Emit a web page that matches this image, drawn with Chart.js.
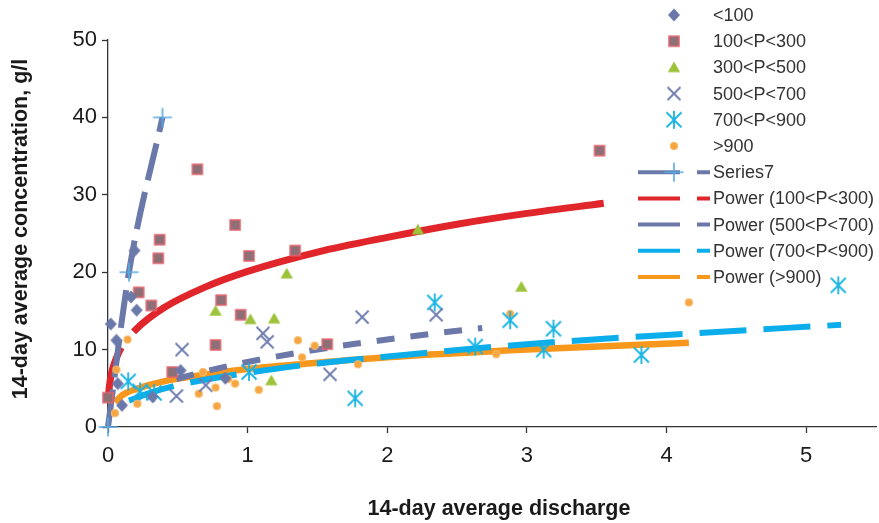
<!DOCTYPE html>
<html>
<head>
<meta charset="utf-8">
<script src="https://cdn.jsdelivr.net/npm/chart.js@4.4.0/dist/chart.umd.min.js"></script>
<style>
  html, body { margin: 0; padding: 0; background: #fff; }
  #wrap { width: 879px; height: 523px; }
</style>
</head>
<body>
<div id="wrap"><canvas id="chart" width="879" height="523"></canvas></div>
<script>
// Axis ticks and titles
const xTickValues = [0, 1, 2, 3, 4, 5];
const yTickValues = [0, 10, 20, 30, 40, 50];
const xTitle = '14-day average discharge';
const yTitle = '14-day average concentration, g/l';

// Series names (legend order)
const seriesNames = ['<100', '100<P<300', '300<P<500', '500<P<700', '700<P<900', '>900',
    'Series7', 'Power (100<P<300)', 'Power (500<P<700)', 'Power (700<P<900)', 'Power (>900)'];

// Scatter groups
const lt100X = [0.02, 0.06, 0.07, 0.10, 0.165, 0.19, 0.205, 0.32, 0.52, 0.84];
const lt100Y = [13.3, 11.2, 5.6, 2.8, 16.8, 22.8, 15.1, 3.9, 7.3, 6.3];

const p100X = [0.0, 0.22, 0.31, 0.36, 0.37, 0.46, 0.64, 0.77, 0.81, 0.91, 0.95, 1.01, 1.34, 1.57, 3.52];
const p100Y = [3.8, 17.4, 15.7, 21.8, 24.2, 7.1, 33.3, 10.6, 16.4, 26.1, 14.5, 22.1, 22.8, 10.7, 35.7];

const p300X = [0.77, 1.02, 1.17, 1.19, 1.28, 2.22, 2.96];
const p300Y = [15.0, 13.9, 6.0, 14.0, 19.8, 25.5, 18.1];

const p500X = [0.49, 0.53, 0.70, 1.11, 1.14, 1.59, 1.82, 2.35];
const p500Y = [4.0, 10.0, 5.4, 12.1, 11.0, 6.8, 14.2, 14.5];

const p700X = [0.145, 0.23, 0.33, 1.01, 1.77, 2.34, 2.63, 2.88, 3.12, 3.19, 3.82, 5.23];
const p700Y = [5.9, 4.6, 4.4, 7.1, 3.7, 16.1, 10.4, 13.8, 10.0, 12.7, 9.3, 18.3];

const p900X = [0.05, 0.06, 0.14, 0.21, 0.65, 0.68, 0.77, 0.78, 0.86, 0.91, 1.08, 1.36, 1.39, 1.48, 1.79, 2.78, 2.88, 4.16];
const p900Y = [1.8, 7.4, 11.3, 3.0, 4.3, 7.1, 5.1, 2.7, 6.2, 5.6, 4.8, 11.2, 9.0, 10.5, 8.1, 9.4, 14.6, 16.1];

const series7X = [0, 0.15, 0.39];
const series7Y = [0, 20, 40];

// Trend lines
const pow100X = [0.003, 0.01, 0.03, 0.06, 0.1, 0.2, 0.4, 0.7, 1.0, 1.5, 2.0, 2.5, 3.0, 3.55];
const pow100Y = [3.8, 5.3, 7.3, 8.9, 10.4, 12.6, 15.4, 18.1, 20.1, 22.6, 24.5, 26.2, 27.6, 28.9];

const pow500X = [0.49, 0.7, 1.0, 1.3, 1.6, 2.0, 2.3, 2.68];
const pow500Y = [6.2, 7.2, 8.4, 9.4, 10.3, 11.3, 12.0, 12.8];

const pow700X = [0.15, 0.3, 0.5, 1.0, 1.5, 2.0, 3.0, 4.0, 5.25];
const pow700Y = [3.4, 4.4, 5.4, 7.0, 8.2, 9.1, 10.7, 11.9, 13.2];

const pow900X = [0.05, 0.1, 0.2, 0.4, 0.7, 1.0, 1.5, 2.0, 3.0, 4.16];
const pow900Y = [3.2, 4.1, 4.9, 5.9, 6.8, 7.5, 8.3, 9.0, 10.0, 10.9];

const FONT = '"Liberation Sans", Arial, Helvetica, sans-serif';

function zip(xs, ys) {
    return xs.map((x, i) => ({ x: x, y: ys[i] }));
}

/**
 * Build a small canvas used as a point style (Excel-like markers)
 */
function makeMarker(kind, fill, edge) {
    const c = document.createElement('canvas');
    c.width = 22;
    c.height = 22;
    const g = c.getContext('2d');
    g.translate(11, 11);
    g.fillStyle = fill;
    g.strokeStyle = edge || fill;
    g.beginPath();
    if (kind === 'diamond') {
        g.moveTo(0, -6.5); g.lineTo(6, 0); g.lineTo(0, 6.5); g.lineTo(-6, 0);
        g.closePath();
        g.fill();
    } else if (kind === 'square') {
        g.fillRect(-5, -5, 10, 10);
        g.lineWidth = 1.5;
        g.strokeRect(-5, -5, 10, 10);
    } else if (kind === 'triangle') {
        g.moveTo(0, -6); g.lineTo(6.2, 4.8); g.lineTo(-6.2, 4.8);
        g.closePath();
        g.fill();
    } else if (kind === 'x') {
        g.lineWidth = 1.8;
        g.moveTo(-6.5, -6.5); g.lineTo(6.5, 6.5);
        g.moveTo(6.5, -6.5); g.lineTo(-6.5, 6.5);
        g.stroke();
    } else if (kind === 'star') {
        g.lineWidth = 1.8;
        g.moveTo(-7.5, -7.5); g.lineTo(7.5, 7.5);
        g.moveTo(7.5, -7.5); g.lineTo(-7.5, 7.5);
        g.moveTo(0, -9); g.lineTo(0, 9);
        g.stroke();
    } else if (kind === 'dot') {
        g.arc(0, 0, 3.8, 0, Math.PI * 2);
        g.fill();
        g.lineWidth = 1;
        g.stroke();
    } else if (kind === 'plus') {
        g.lineWidth = 1.6;
        g.moveTo(-9.5, 0); g.lineTo(9.5, 0);
        g.moveTo(0, -9.5); g.lineTo(0, 9.5);
        g.stroke();
    }
    return c;
}

const markers = [
    makeMarker('diamond', '#6b79aa'),
    makeMarker('square', '#8d6f77', '#e2646e'),
    makeMarker('triangle', '#9dc33b'),
    makeMarker('x', '#6d7bae'),
    makeMarker('star', '#18b3e3'),
    makeMarker('dot', '#f6a640', '#f8bd6e'),
    makeMarker('plus', '#58abe2')
];

function scatterSet(i, xs, ys) {
    return {
        label: seriesNames[i],
        data: zip(xs, ys),
        pointStyle: markers[i],
        pointRadius: 5,
        showLine: false,
        order: 0,
        clip: false
    };
}

function trendSet(i, xs, ys, color, width, dash) {
    return {
        label: seriesNames[i],
        data: zip(xs, ys),
        showLine: true,
        pointRadius: 0,
        borderColor: color,
        borderWidth: width,
        borderDash: dash,
        cubicInterpolationMode: 'monotone',
        order: 2,
        clip: false
    };
}

const datasets = [
    scatterSet(0, lt100X, lt100Y),
    scatterSet(1, p100X, p100Y),
    scatterSet(2, p300X, p300Y),
    scatterSet(3, p500X, p500Y),
    scatterSet(4, p700X, p700Y),
    scatterSet(5, p900X, p900Y),
    {
        label: seriesNames[6],
        data: zip(series7X, series7Y),
        showLine: true,
        pointStyle: markers[6],
        pointRadius: 5,
        borderColor: '#6b79aa',
        borderWidth: 6,
        borderDash: [38, 12],
        cubicInterpolationMode: 'monotone',
        order: 1,
        clip: false
    },
    trendSet(7, pow100X, pow100Y, '#e0252b', 7, [52, 20, 3000, 0]),
    trendSet(8, pow500X, pow500Y, '#6b78a8', 6, [18, 16]),
    trendSet(9, pow700X, pow700Y, '#0badea', 6, [47, 17]),
    trendSet(10, pow900X, pow900Y, '#f7981d', 6.5, [])
];

/**
 * Legend on the right (over the plot) and the two axis titles
 */
const sideLegend = {
    id: 'sideLegend',
    afterDraw(chart) {
        const ctx = chart.ctx;
        ctx.save();
        ctx.font = '18px ' + FONT;
        ctx.textBaseline = 'middle';
        chart.data.datasets.forEach((ds, i) => {
            const y = 15 + i * 26.2;
            if (ds.showLine) {
                ctx.strokeStyle = ds.borderColor;
                ctx.lineWidth = 4;
                ctx.beginPath();
                ctx.moveTo(638, y); ctx.lineTo(680, y);
                ctx.moveTo(697, y); ctx.lineTo(710, y);
                ctx.stroke();
            }
            if (ds.pointStyle && ds.pointRadius > 0) {
                const m = ds.pointStyle;
                ctx.drawImage(m, 674 - m.width / 2, y - m.height / 2);
            }
            ctx.fillStyle = '#333';
            ctx.fillText(ds.label, 713, y + 1);
        });

        // axis titles
        ctx.fillStyle = '#1a1a1a';
        ctx.font = 'bold 21.5px ' + FONT;
        ctx.textAlign = 'center';
        ctx.fillText(xTitle, 499, 509);
        ctx.translate(21, 229);
        ctx.rotate(-Math.PI / 2);
        ctx.fillText(yTitle, 0, 0);
        ctx.restore();
    }
};

new Chart(document.getElementById('chart'), {
    type: 'scatter',
    data: { datasets: datasets },
    options: {
        responsive: false,
        animation: false,
        devicePixelRatio: 1,
        events: [],
        layout: { autoPadding: false, padding: { left: 0, top: 40, right: 3, bottom: 0 } },
        plugins: {
            legend: { display: false },
            tooltip: { enabled: false }
        },
        scales: {
            x: {
                type: 'linear',
                min: 0,
                max: 5.5,
                afterBuildTicks: s => { s.ticks = xTickValues.map(v => ({ value: v })); },
                afterFit: s => { s.height = 96; s.paddingLeft = 0; s.paddingRight = 0; },
                grid: { drawOnChartArea: false, drawTicks: true, tickLength: 6, tickWidth: 1.3, tickColor: '#333' },
                border: { display: true, color: '#333', width: 1.3 },
                ticks: { padding: 10, color: '#1a1a1a', font: { family: FONT, size: 22 } }
            },
            y: {
                type: 'linear',
                min: 0,
                max: 50,
                afterBuildTicks: s => { s.ticks = yTickValues.map(v => ({ value: v })); },
                afterFit: s => { s.width = 108; s.paddingTop = 0; s.paddingBottom = 0; },
                grid: { drawOnChartArea: false, drawTicks: true, tickLength: 6, tickWidth: 1.3, tickColor: '#333' },
                border: { display: true, color: '#333', width: 1.3 },
                ticks: { padding: 5, color: '#1a1a1a', font: { family: FONT, size: 22 } }
            }
        }
    },
    plugins: [sideLegend]
});
</script>
</body>
</html>
